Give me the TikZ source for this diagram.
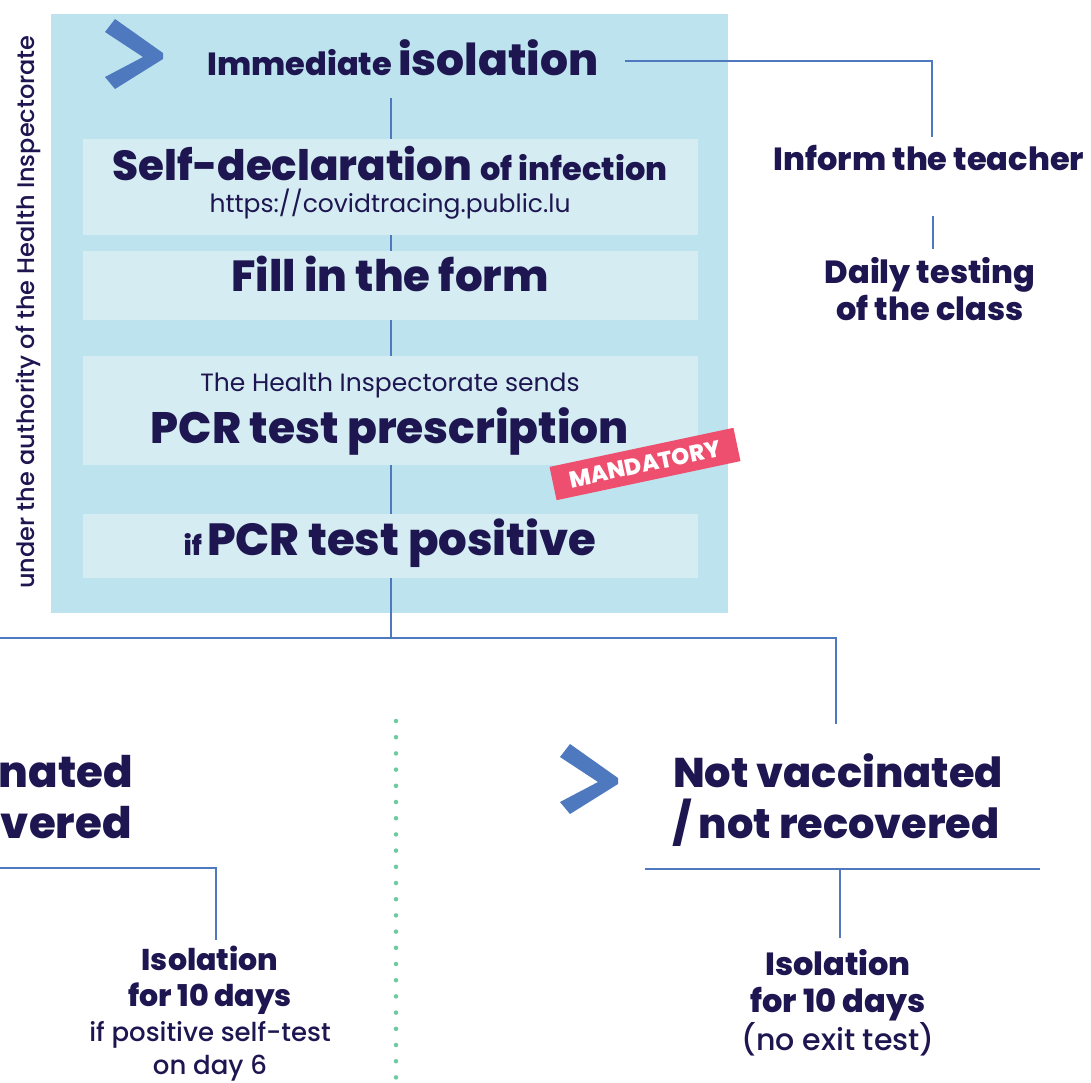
\documentclass[tikz,border=0pt]{standalone}
\usepackage{fontspec}
\setmainfont{Poppins}[BoldFont={Poppins ExtraBold}]
\newfontfamily\medfont{Poppins Medium}
\definecolor{panelblue}{HTML}{BDE3EE}
\definecolor{boxblue}{HTML}{D4ECF2}
\definecolor{ink}{HTML}{1E1650}
\definecolor{linkblue}{HTML}{4F79BF}
\definecolor{tagred}{HTML}{EE4F6F}
\definecolor{dotgreen}{HTML}{6DCBA2}
\newcommand{\fsz}[1]{\fontsize{#1}{#1}\selectfont}
\begin{document}
\begin{tikzpicture}[x=1pt,y=-1pt,
  conn/.style={draw=linkblue, line width=2.5pt},
  stepbox/.style={fill=boxblue, inner sep=0, minimum width=615pt, anchor=north west},
  txt/.style={text=ink, inner sep=0, anchor=base, align=center},
  chevron/.pic={\fill[linkblue] (115,19) -- (105,32) -- (143,57) -- (105,77) -- (115,89) -- (163,59) -- (163,53) -- cycle;}
  ]
\useasboundingbox (0,0) rectangle (1091,1082);
\clip (0,0) rectangle (1091,1082);
\fill[white] (0,0) rectangle (1091,1082);

% panel
\node[fill=panelblue, inner sep=0, minimum width=677pt, minimum height=599pt, anchor=north west] (panel) at (51,14) {};

% main vertical connector (behind boxes)
\coordinate (v0) at (391,98);
\coordinate (v1) at (391,638);
\draw[conn] (v0) -- (v1);

% boxes
\node[stepbox, minimum height=96pt] (box1) at (83,139) {};
\node[stepbox, minimum height=69pt] (box2) at (83,251) {};
\node[stepbox, minimum height=109pt] (box3) at (83,356) {};
\node[stepbox, minimum height=64pt] (box4) at (83,514) {};

% chevrons
\pic at (0,0) {chevron};
\pic at (455,725) {chevron};

% texts in panel
\node[txt] (iso) at (403,75) {\bfseries\fsz{32}Immediate \fsz{44}isolation};
\node[txt] (selfdec) at (390,180) {\bfseries\fsz{42}Self-declaration \fsz{32}of infection};
\node[txt] (url) at (390,212) {\fsz{25}https://covidtracing.public.lu};
\node[txt] (fill) at (390,291) {\bfseries\fsz{43.5}Fill in the form};
\node[txt] (sends) at (390,391) {\fsz{25}The Health Inspectorate sends};
\node[txt] (pcr) at (390,443) {\bfseries\fsz{44}PCR test prescription};
\node[txt] (pos) at (390,555) {\bfseries\fsz{27}if \fsz{45}PCR test positive};
\node[fill=tagred, rotate=12, minimum width=188pt, minimum height=34pt, inner sep=0, text=white] (tag) at (645,464) {\bfseries\fsz{23}MANDATORY};

% vertical label
\node[text=ink, inner sep=0, rotate=90] (auth) at (28,312) {\medfont\fsz{24}under the authority of the Health Inspectorate};

% right branch: teacher
\node[txt] (inform) at (929,170) {\bfseries\fsz{32}Inform the teacher};
\node[txt] (daily) at (930,283) {\bfseries\fsz{32}Daily testing};
\node[txt] (ofclass) at (930,320) {\bfseries\fsz{32}of the class};
\coordinate (h0) at (625,61);
\coordinate (h1) at (932,137);
\draw[conn] (h0) -| (h1);
\coordinate (d0) at (933,216);
\coordinate (d1) at (933,249);
\draw[conn] (d0) -- (d1);

% split
\coordinate (s0) at (-10,638);
\coordinate (s1) at (836,724);
\draw[conn] (s0) -| (s1);

% left column
\node[txt, anchor=base east] (vacc) at (133,787) {\bfseries\fsz{43.5}Vaccinated};
\node[txt, anchor=base east] (rec) at (132,838) {\bfseries\fsz{43.5}/ recovered};
\coordinate (l0) at (-10,868);
\coordinate (l1) at (216,940);
\draw[conn] (l0) -| (l1);
\node[txt] (liso) at (210,970) {\bfseries\fsz{30}Isolation};
\node[txt] (l10) at (210,1006) {\bfseries\fsz{30}for 10 days};
\node[txt] (lif) at (210,1041) {\medfont\fsz{26}if positive self-test};
\node[txt] (lday) at (210,1074) {\medfont\fsz{26}on day 6};

% dotted separator
\coordinate (dt) at (396,721);
\coordinate (db) at (396,1078);
\draw[dotgreen, line width=4.5pt, line cap=round, dash pattern=on 0pt off 16.2pt] (dt) -- (db);

% right column
\node[txt, anchor=base west] (notv) at (673,787) {\bfseries\fsz{41.5}Not vaccinated};
\node[txt, anchor=base west] (notr) at (673,838) {\bfseries\fsz{41.5}/ not recovered};
\coordinate (r0) at (645,869);
\coordinate (r1) at (1040,869);
\draw[conn] (r0) -- (r1);
\coordinate (r2) at (840,869);
\coordinate (r3) at (840,938);
\draw[conn] (r2) -- (r3);
\node[txt] (riso) at (838,975) {\bfseries\fsz{32}Isolation};
\node[txt] (r10) at (838,1012) {\bfseries\fsz{32}for 10 days};
\node[txt] (rno) at (838,1050) {\medfont\fsz{30}(no exit test)};
\end{tikzpicture}
\end{document}
